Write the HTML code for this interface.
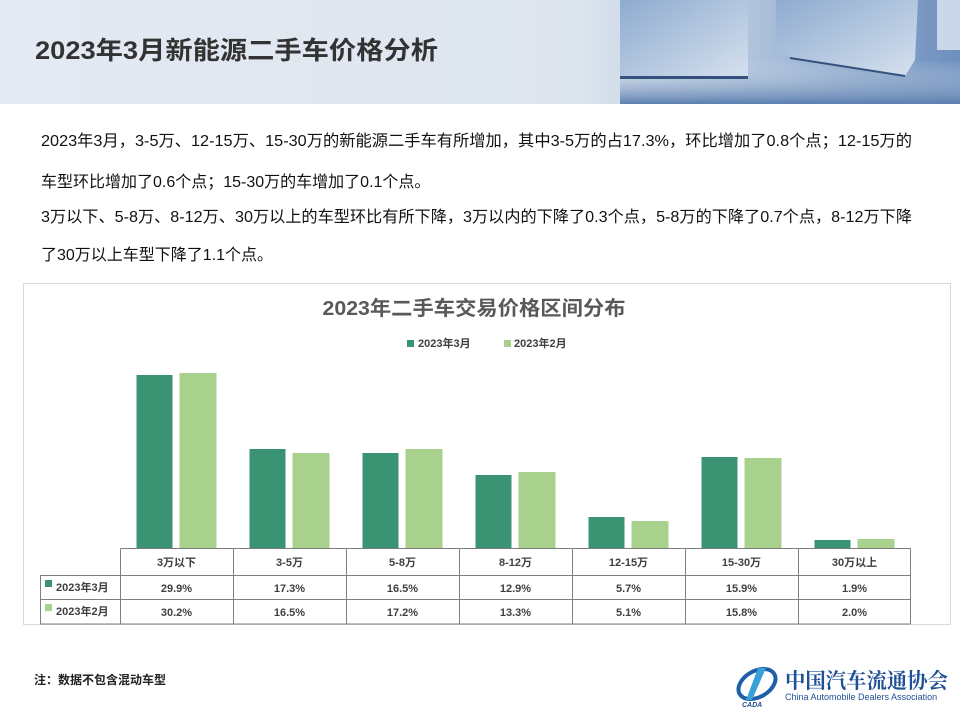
<!DOCTYPE html>
<html><head><meta charset="utf-8"><style>
body{margin:0;width:960px;height:720px;overflow:hidden;background:#fff;font-family:"Liberation Sans","Noto Sans CJK SC",sans-serif;}
</style></head><body>
<svg width="960" height="720" xmlns="http://www.w3.org/2000/svg" font-family="Liberation Sans, Noto Sans CJK SC, sans-serif">
<defs>
<linearGradient id="hd" x1="0" x2="1" y1="0" y2="0">
<stop offset="0" stop-color="#e4eaf2"/><stop offset="0.6" stop-color="#dde5ef"/><stop offset="0.75" stop-color="#b9cbe0"/><stop offset="1" stop-color="#6d8fbe"/>
</linearGradient>
<linearGradient id="cube" x1="0" x2="1" y1="0" y2="1">
<stop offset="0" stop-color="#8eabd0"/><stop offset="1" stop-color="#d6e1ee"/>
</linearGradient>
<linearGradient id="fl" x1="0" x2="0" y1="0" y2="1">
<stop offset="0" stop-color="#dfe7f0" stop-opacity="0"/><stop offset="1" stop-color="#5c7fb0"/>
</linearGradient>
</defs>
<rect x="0" y="0" width="960" height="104" fill="url(#hd)"/>
<rect x="620" y="60" width="340" height="44" fill="url(#fl)"/>
<rect x="620" y="0" width="128" height="78" fill="url(#cube)"/>
<rect x="620" y="76" width="128" height="3" fill="#34507c"/>
<path d="M776 0 L918 0 L915 60 L905 76 L790 58 L776 48 Z" fill="url(#cube)"/>
<path d="M905 76 L790 58" stroke="#34507c" stroke-width="2"/>
<rect x="937" y="0" width="23" height="50" fill="#c9d7e8"/>
<text x="35" y="59" font-size="25" font-weight="bold" fill="#333" textLength="403" lengthAdjust="spacingAndGlyphs">2023年3月新能源二手车价格分析</text>
<g font-size="16" fill="#111">
<text x="41" y="146" textLength="871" lengthAdjust="spacingAndGlyphs">2023年3月，3-5万、12-15万、15-30万的新能源二手车有所增加，其中3-5万的占17.3%，环比增加了0.8个点；12-15万的</text>
<text x="41" y="187">车型环比增加了0.6个点；15-30万的车增加了0.1个点。</text>
<text x="41" y="222" textLength="871" lengthAdjust="spacingAndGlyphs">3万以下、5-8万、8-12万、30万以上的车型环比有所下降，3万以内的下降了0.3个点，5-8万的下降了0.7个点，8-12万下降</text>
<text x="41" y="260">了30万以上车型下降了1.1个点。</text>
</g>
<rect x="23.5" y="283.5" width="927" height="341" fill="#fff" stroke="#d9d9d9"/>
<text x="474" y="315" font-size="20" font-weight="bold" fill="#595959" text-anchor="middle" textLength="303" lengthAdjust="spacingAndGlyphs">2023年二手车交易价格区间分布</text>
<rect x="407" y="340" width="7" height="7" fill="#3a9474"/>
<text x="418" y="347" font-size="11" font-weight="bold" fill="#404040">2023年3月</text>
<rect x="504" y="340" width="7" height="7" fill="#a9d18e"/>
<text x="514" y="347" font-size="11" font-weight="bold" fill="#404040">2023年2月</text>
<g>
<rect x="136.5" y="375" width="36" height="173" fill="#3a9474"/><rect x="179.5" y="373" width="37" height="175" fill="#a9d18e"/>
<rect x="249.5" y="449" width="36" height="99" fill="#3a9474"/><rect x="292.5" y="453" width="37" height="95" fill="#a9d18e"/>
<rect x="362.5" y="453" width="36" height="95" fill="#3a9474"/><rect x="405.5" y="449" width="37" height="99" fill="#a9d18e"/>
<rect x="475.5" y="475" width="36" height="73" fill="#3a9474"/><rect x="518.5" y="472" width="37" height="76" fill="#a9d18e"/>
<rect x="588.5" y="517" width="36" height="31" fill="#3a9474"/><rect x="631.5" y="521" width="37" height="27" fill="#a9d18e"/>
<rect x="701.5" y="457" width="36" height="91" fill="#3a9474"/><rect x="744.5" y="458" width="37" height="90" fill="#a9d18e"/>
<rect x="814.5" y="540" width="36" height="8" fill="#3a9474"/><rect x="857.5" y="539" width="37" height="9" fill="#a9d18e"/>
</g>
<g stroke="#7f7f7f" stroke-width="1" fill="none">
<path d="M120.5 548.5 H910.5 V624 M120.5 548.5 V624 M40 575.5 H910.5 M40 599.5 H910.5 M40.5 575.5 V624 M40 624 H910.5"/>
<path d="M233.5 548.5 V624 M346.5 548.5 V624 M459.5 548.5 V624 M572.5 548.5 V624 M685.5 548.5 V624 M798.5 548.5 V624"/>
</g>
<g font-size="11" font-weight="bold" fill="#404040" text-anchor="middle">
<text x="176.5" y="566">3万以下</text><text x="289.5" y="566">3-5万</text><text x="402.5" y="566">5-8万</text><text x="515.5" y="566">8-12万</text><text x="628.5" y="566">12-15万</text><text x="741.5" y="566">15-30万</text><text x="854.5" y="566">30万以上</text>
<text x="176.5" y="592">29.9%</text><text x="289.5" y="592">17.3%</text><text x="402.5" y="592">16.5%</text><text x="515.5" y="592">12.9%</text><text x="628.5" y="592">5.7%</text><text x="741.5" y="592">15.9%</text><text x="854.5" y="592">1.9%</text>
<text x="176.5" y="616">30.2%</text><text x="289.5" y="616">16.5%</text><text x="402.5" y="616">17.2%</text><text x="515.5" y="616">13.3%</text><text x="628.5" y="616">5.1%</text><text x="741.5" y="616">15.8%</text><text x="854.5" y="616">2.0%</text>
</g>
<rect x="45" y="580" width="7" height="7" fill="#3a9474"/>
<text x="56" y="591" font-size="11" font-weight="bold" fill="#404040">2023年3月</text>
<rect x="45" y="604" width="7" height="7" fill="#a9d18e"/>
<text x="56" y="615" font-size="11" font-weight="bold" fill="#404040">2023年2月</text>
<text x="34" y="684" font-size="12" font-weight="bold" fill="#222">注：数据不包含混动车型</text>
<g>
<ellipse cx="757" cy="684" rx="20" ry="13" fill="none" stroke="#1f5fa8" stroke-width="4" transform="rotate(-30 757 684)"/>
<path d="M758 668 L766 668 L752 700 L746 700 Z" fill="#3aa0d8"/>
<text x="742" y="707" font-size="7" font-weight="bold" font-style="italic" fill="#1f4f94">CADA</text>
<text x="785" y="688" font-size="21" font-weight="bold" fill="#1f4f94" font-family="Noto Serif CJK SC, serif" textLength="163" lengthAdjust="spacingAndGlyphs">中国汽车流通协会</text>
<text x="785" y="700" font-size="9" fill="#1f4f94">China Automobile Dealers Association</text>
</g>
</svg>
</body></html>
